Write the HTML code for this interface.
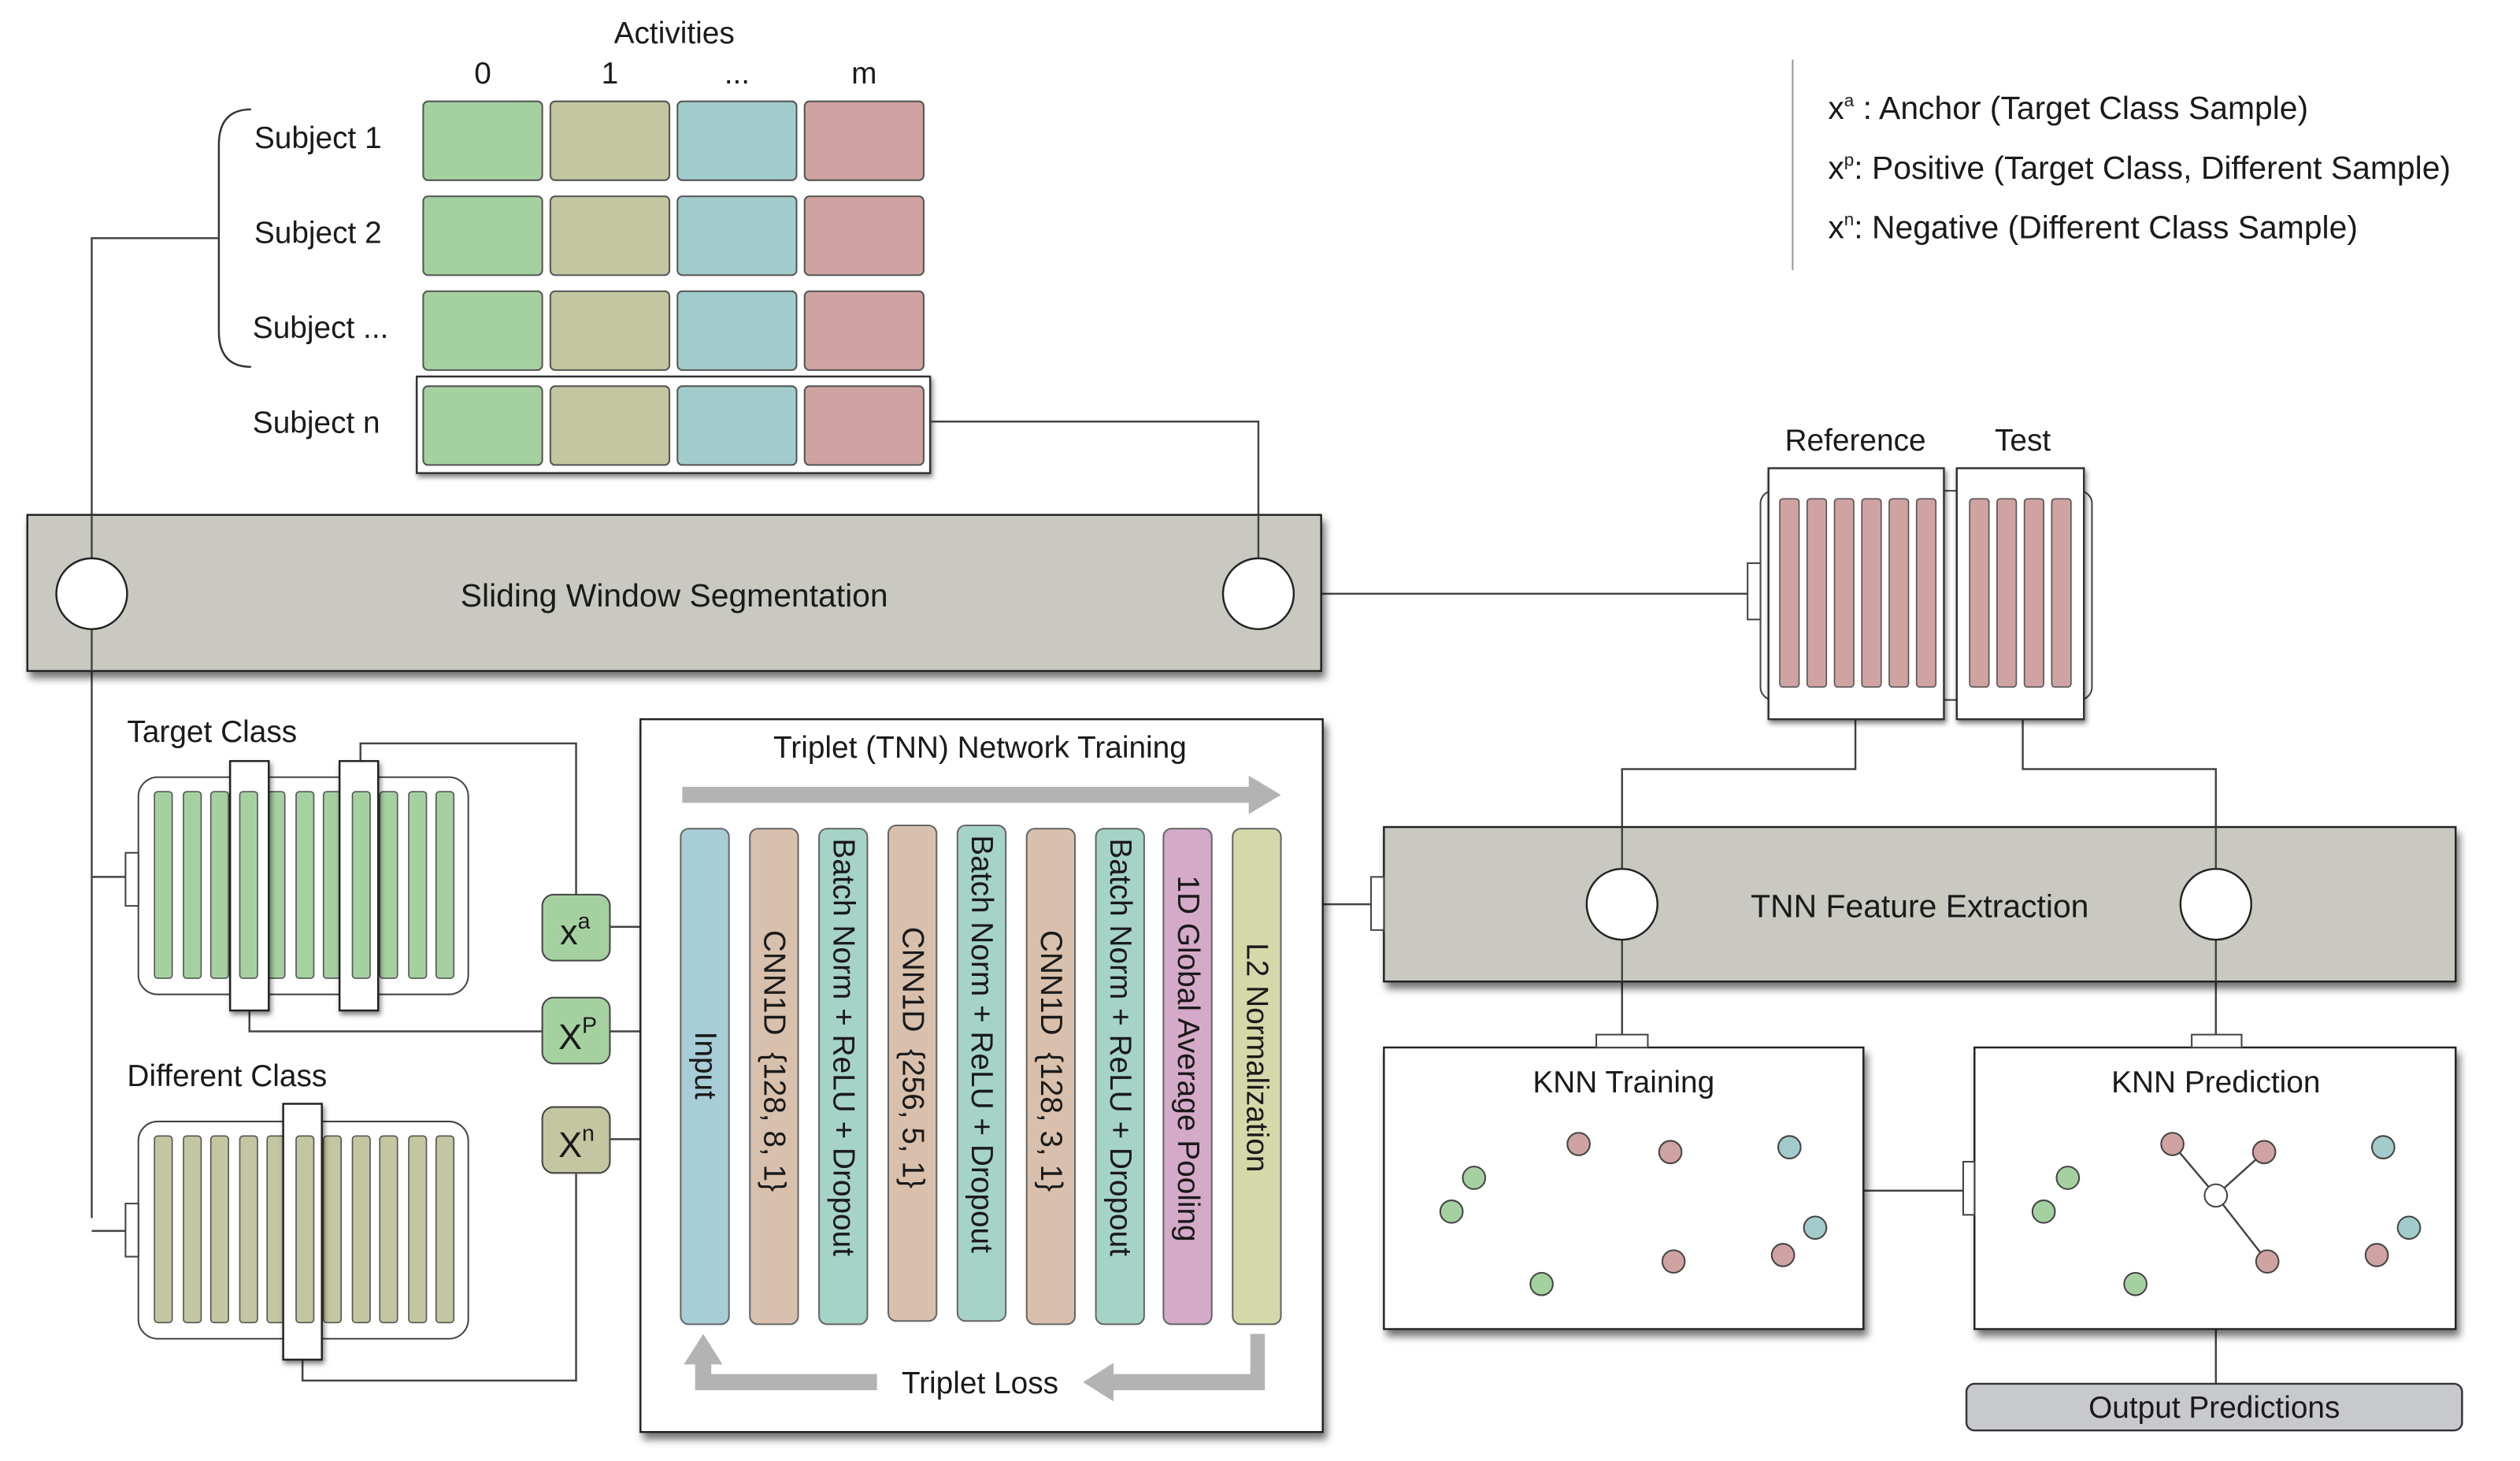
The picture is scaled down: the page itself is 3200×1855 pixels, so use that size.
<!DOCTYPE html>
<html><head><meta charset="utf-8"><style>
html,body{margin:0;padding:0;background:#fff;}
svg{display:block;}
text{font-family:"Liberation Sans",sans-serif;fill:#1a1a1a;}
</style></head><body>
<svg width="3200" height="1855" viewBox="0 0 1566 908" preserveAspectRatio="none" xmlns="http://www.w3.org/2000/svg">
<defs>
<filter id="sh" x="-5%" y="-5%" width="115%" height="125%"><feDropShadow dx="2" dy="4" stdDeviation="2.5" flood-color="#000" flood-opacity="0.55"/></filter>
<filter id="sh2" x="-20%" y="-20%" width="150%" height="150%"><feDropShadow dx="1" dy="2" stdDeviation="1.5" flood-color="#000" flood-opacity="0.5"/></filter>
</defs>
<rect width="1566" height="908" fill="#fff"/>

<text x="419" y="27" font-size="19" text-anchor="middle">Activities</text>
<g font-size="19" text-anchor="middle"><text x="300" y="52">0</text><text x="379" y="52">1</text><text x="458" y="52">...</text><text x="537" y="52">m</text></g>
<rect x="259" y="234" width="319" height="60" fill="#fff" stroke="#333" stroke-width="1.2" filter="url(#sh2)"/>
<g stroke="#555" stroke-width="1">
<g fill="#a5d1a1"><rect x="263" y="63" width="74" height="49" rx="3"/><rect x="263" y="122" width="74" height="49" rx="3"/><rect x="263" y="181" width="74" height="49" rx="3"/><rect x="263" y="240" width="74" height="49" rx="3"/></g>
<g fill="#c3c6a0"><rect x="342" y="63" width="74" height="49" rx="3"/><rect x="342" y="122" width="74" height="49" rx="3"/><rect x="342" y="181" width="74" height="49" rx="3"/><rect x="342" y="240" width="74" height="49" rx="3"/></g>
<g fill="#a2cccb"><rect x="421" y="63" width="74" height="49" rx="3"/><rect x="421" y="122" width="74" height="49" rx="3"/><rect x="421" y="181" width="74" height="49" rx="3"/><rect x="421" y="240" width="74" height="49" rx="3"/></g>
<g fill="#cfa3a1"><rect x="500" y="63" width="74" height="49" rx="3"/><rect x="500" y="122" width="74" height="49" rx="3"/><rect x="500" y="181" width="74" height="49" rx="3"/><rect x="500" y="240" width="74" height="49" rx="3"/></g>
</g>
<g font-size="19"><text x="158" y="92">Subject 1</text><text x="158" y="151">Subject 2</text><text x="157" y="210">Subject ...</text><text x="157" y="269">Subject n</text></g>
<path d="M156,68 Q136,68 136,90 L136,206 Q136,228 156,228" fill="none" stroke="#333" stroke-width="1.2"/>

<g fill="none" stroke="#444" stroke-width="1.2">
<path d="M136,148 H57 V757 M57,545 H80 M57,765 H80"/>
<path d="M578,262 H782 V347"/>
<path d="M804,369 H1088"/>
<path d="M1153,447 V478 H1008 V540 M1257,447 V478 H1377 V540"/>
<path d="M1008,584 V645 M1377,584 V645"/>
<path d="M822,562 H853"/>
<path d="M1158,740 H1222"/>
<path d="M1377,826 V860"/>
<path d="M224,473 V462 H358 V556 M379,576 H423 M155,628 V641 H337 M379,641 H423 M379,708 H423 M358,729 V858 H188 V845"/>
</g>

<rect x="17" y="320" width="804" height="97" fill="#c9c8c1" stroke="#222" stroke-width="1.2" filter="url(#sh)"/>
<line x1="57" y1="320" x2="57" y2="417" stroke="#444" stroke-width="1.2"/>
<line x1="782" y1="320" x2="782" y2="347" stroke="#444" stroke-width="1.2"/>
<circle cx="57" cy="369" r="22" fill="#fff" stroke="#222" stroke-width="1.2"/>
<circle cx="782" cy="369" r="22" fill="#fff" stroke="#222" stroke-width="1.2"/>
<text x="419" y="377" font-size="20" text-anchor="middle">Sliding Window Segmentation</text>

<text x="1153" y="280" font-size="19" text-anchor="middle">Reference</text>
<text x="1257" y="280" font-size="19" text-anchor="middle">Test</text>
<rect x="1094" y="305" width="206" height="130" rx="8" fill="#fff" stroke="#444" stroke-width="1"/>
<rect x="1086" y="350" width="8" height="35" fill="#fff" stroke="#444" stroke-width="1"/>
<rect x="1099" y="291" width="109" height="156" fill="#fff" stroke="#333" stroke-width="1.2" filter="url(#sh2)"/>
<rect x="1216" y="291" width="79" height="156" fill="#fff" stroke="#333" stroke-width="1.2" filter="url(#sh2)"/>
<g fill="#cfa3a1" stroke="#555" stroke-width="0.8">
<rect x="1106" y="310" width="12" height="117" rx="2"/><rect x="1123" y="310" width="12" height="117" rx="2"/><rect x="1140" y="310" width="12" height="117" rx="2"/><rect x="1157" y="310" width="12" height="117" rx="2"/><rect x="1174" y="310" width="12" height="117" rx="2"/><rect x="1191" y="310" width="12" height="117" rx="2"/>
<rect x="1224" y="310" width="12" height="117" rx="2"/><rect x="1241" y="310" width="12" height="117" rx="2"/><rect x="1258" y="310" width="12" height="117" rx="2"/><rect x="1275" y="310" width="12" height="117" rx="2"/>
</g>

<line x1="1114" y1="37" x2="1114" y2="168" stroke="#999" stroke-width="1"/>
<g font-size="20"><text x="1136" y="74">x<tspan font-size="11" dy="-8">a</tspan><tspan dy="8"> : Anchor (Target Class Sample)</tspan></text>
<text x="1136" y="111">x<tspan font-size="11" dy="-8">p</tspan><tspan dy="8">: Positive (Target Class, Different Sample)</tspan></text>
<text x="1136" y="148">x<tspan font-size="11" dy="-8">n</tspan><tspan dy="8">: Negative (Different Class Sample)</tspan></text></g>

<rect x="860" y="514" width="666" height="96" fill="#c9c8c1" stroke="#222" stroke-width="1.2" filter="url(#sh)"/>
<rect x="852" y="545" width="8" height="33" fill="#fff" stroke="#444" stroke-width="1"/>
<line x1="1008" y1="514" x2="1008" y2="540" stroke="#444" stroke-width="1.2"/>
<line x1="1377" y1="514" x2="1377" y2="540" stroke="#444" stroke-width="1.2"/>
<line x1="1008" y1="584" x2="1008" y2="610" stroke="#444" stroke-width="1.2"/>
<line x1="1377" y1="584" x2="1377" y2="610" stroke="#444" stroke-width="1.2"/>
<circle cx="1008" cy="562" r="22" fill="#fff" stroke="#222" stroke-width="1.2"/>
<circle cx="1377" cy="562" r="22" fill="#fff" stroke="#222" stroke-width="1.2"/>
<text x="1193" y="570" font-size="20" text-anchor="middle">TNN Feature Extraction</text>

<rect x="860" y="651" width="298" height="175" fill="#fff" stroke="#222" stroke-width="1.2" filter="url(#sh)"/>
<rect x="1227" y="651" width="299" height="175" fill="#fff" stroke="#222" stroke-width="1.2" filter="url(#sh)"/>
<rect x="992" y="643" width="32" height="8" fill="#fff" stroke="#444" stroke-width="1"/>
<rect x="1362" y="643" width="31" height="8" fill="#fff" stroke="#444" stroke-width="1"/>
<rect x="1220" y="722" width="7" height="33" fill="#fff" stroke="#444" stroke-width="1"/>
<text x="1009" y="679" font-size="19" text-anchor="middle">KNN Training</text>
<text x="1377" y="679" font-size="19" text-anchor="middle">KNN Prediction</text>
<g stroke="#444" stroke-width="1.2"><line x1="1377" y1="743" x2="1350" y2="711"/><line x1="1377" y1="743" x2="1407" y2="716"/><line x1="1377" y1="743" x2="1409" y2="784"/></g>
<g stroke="#444" stroke-width="1">
<g fill="#a5d1a1"><circle cx="916" cy="732" r="7"/><circle cx="902" cy="753" r="7"/><circle cx="958" cy="798" r="7"/><circle cx="1285" cy="732" r="7"/><circle cx="1270" cy="753" r="7"/><circle cx="1327" cy="798" r="7"/></g>
<g fill="#cfa3a1"><circle cx="981" cy="711" r="7"/><circle cx="1038" cy="716" r="7"/><circle cx="1040" cy="784" r="7"/><circle cx="1108" cy="780" r="7"/><circle cx="1350" cy="711" r="7"/><circle cx="1407" cy="716" r="7"/><circle cx="1409" cy="784" r="7"/><circle cx="1477" cy="780" r="7"/></g>
<g fill="#a2cccb"><circle cx="1112" cy="713" r="7"/><circle cx="1128" cy="763" r="7"/><circle cx="1481" cy="713" r="7"/><circle cx="1497" cy="763" r="7"/></g>
<circle cx="1377" cy="743" r="7" fill="#fff"/>
</g>
<rect x="1222" y="860" width="308" height="29" rx="5" fill="#c8c9cd" stroke="#333" stroke-width="1.2"/>
<text x="1376" y="881" font-size="19" text-anchor="middle">Output Predictions</text>

<rect x="398" y="447" width="424" height="443" fill="#fff" stroke="#222" stroke-width="1.2" filter="url(#sh)"/>
<text x="609" y="471" font-size="19" text-anchor="middle">Triplet (TNN) Network Training</text>
<path d="M424,489 H776 V482 L796,494 L776,506 V499 H424 Z" fill="#b3b3b3"/>
<g stroke="#666" stroke-width="1">
<rect x="423" y="515" width="30" height="308" rx="5" fill="#a7cdd6"/>
<rect x="466" y="515" width="30" height="308" rx="5" fill="#d8c0ac"/>
<rect x="509" y="515" width="30" height="308" rx="5" fill="#a5d3c8"/>
<rect x="552" y="513" width="30" height="308" rx="5" fill="#d8c0ac"/>
<rect x="595" y="513" width="30" height="308" rx="5" fill="#a5d3c8"/>
<rect x="638" y="515" width="30" height="308" rx="5" fill="#d8c0ac"/>
<rect x="681" y="515" width="30" height="308" rx="5" fill="#a5d3c8"/>
<rect x="723" y="515" width="30" height="308" rx="5" fill="#d5aac9"/>
<rect x="766" y="515" width="30" height="308" rx="5" fill="#d5d8a9"/>
</g>
<g font-size="19">
<text transform="translate(432,641) rotate(90)">Input</text>
<text transform="translate(475,578) rotate(90)" xml:space="preserve">CNN1D  {128, 8, 1}</text>
<text transform="translate(518,521) rotate(90)">Batch Norm + ReLU + Dropout</text>
<text transform="translate(561,576) rotate(90)" xml:space="preserve">CNN1D  {256, 5, 1}</text>
<text transform="translate(604,519) rotate(90)">Batch Norm + ReLU + Dropout</text>
<text transform="translate(647,578) rotate(90)" xml:space="preserve">CNN1D  {128, 3, 1}</text>
<text transform="translate(690,521) rotate(90)">Batch Norm + ReLU + Dropout</text>
<text transform="translate(732,544) rotate(90)">1D Global Average Pooling</text>
<text transform="translate(775,586) rotate(90)">L2 Normalization</text>
</g>
<path d="M777,829 H786 V864 H692 V871 L673,859 L692,847 V854 H777 Z" fill="#b3b3b3"/>
<path d="M545,854 V864 H432 V848 H425 L437,829 L449,848 H442 V854 Z" fill="#b3b3b3"/>
<text x="609" y="866" font-size="19" text-anchor="middle">Triplet Loss</text>

<text x="79" y="461" font-size="19">Target Class</text>
<rect x="86" y="483" width="205" height="135" rx="12" fill="#fff" stroke="#444" stroke-width="1"/>
<rect x="78" y="530" width="8" height="33" fill="#fff" stroke="#444" stroke-width="1"/>
<g fill="#a5d1a1" stroke="#555" stroke-width="0.8">
<rect x="96" y="492" width="11" height="116" rx="2"/><rect x="114" y="492" width="11" height="116" rx="2"/><rect x="131" y="492" width="11" height="116" rx="2"/><rect x="149" y="492" width="11" height="116" rx="2"/><rect x="166" y="492" width="11" height="116" rx="2"/><rect x="184" y="492" width="11" height="116" rx="2"/><rect x="201" y="492" width="11" height="116" rx="2"/><rect x="219" y="492" width="11" height="116" rx="2"/><rect x="236" y="492" width="11" height="116" rx="2"/><rect x="254" y="492" width="11" height="116" rx="2"/><rect x="271" y="492" width="11" height="116" rx="2"/>
</g>
<rect x="143" y="473" width="24" height="155" fill="#fff" stroke="#222" stroke-width="1.2" filter="url(#sh2)"/>
<rect x="211" y="473" width="24" height="155" fill="#fff" stroke="#222" stroke-width="1.2" filter="url(#sh2)"/>
<rect x="149" y="492" width="11" height="116" rx="2" fill="#a5d1a1" stroke="#555" stroke-width="0.8"/>
<rect x="219" y="492" width="11" height="116" rx="2" fill="#a5d1a1" stroke="#555" stroke-width="0.8"/>

<text x="79" y="675" font-size="19">Different Class</text>
<rect x="86" y="697" width="205" height="135" rx="12" fill="#fff" stroke="#444" stroke-width="1"/>
<rect x="78" y="748" width="8" height="33" fill="#fff" stroke="#444" stroke-width="1"/>
<g fill="#c3c6a0" stroke="#555" stroke-width="0.8">
<rect x="96" y="706" width="11" height="116" rx="2"/><rect x="114" y="706" width="11" height="116" rx="2"/><rect x="131" y="706" width="11" height="116" rx="2"/><rect x="149" y="706" width="11" height="116" rx="2"/><rect x="166" y="706" width="11" height="116" rx="2"/><rect x="184" y="706" width="11" height="116" rx="2"/><rect x="201" y="706" width="11" height="116" rx="2"/><rect x="219" y="706" width="11" height="116" rx="2"/><rect x="236" y="706" width="11" height="116" rx="2"/><rect x="254" y="706" width="11" height="116" rx="2"/><rect x="271" y="706" width="11" height="116" rx="2"/>
</g>
<rect x="176" y="686" width="24" height="159" fill="#fff" stroke="#222" stroke-width="1.2" filter="url(#sh2)"/>
<rect x="184" y="706" width="11" height="116" rx="2" fill="#c3c6a0" stroke="#555" stroke-width="0.8"/>

<rect x="337" y="556" width="42" height="41" rx="7" fill="#a5d1a1" stroke="#444" stroke-width="1"/>
<rect x="337" y="620" width="42" height="41" rx="7" fill="#a5d1a1" stroke="#444" stroke-width="1"/>
<rect x="337" y="688" width="42" height="41" rx="7" fill="#c3c6a0" stroke="#444" stroke-width="1"/>
<g font-size="22"><text x="348" y="587">x<tspan font-size="14" dy="-10">a</tspan></text>
<text x="347" y="652">X<tspan font-size="14" dy="-10">P</tspan></text>
<text x="347" y="719">X<tspan font-size="14" dy="-10">n</tspan></text></g>
</svg>
</body></html>
